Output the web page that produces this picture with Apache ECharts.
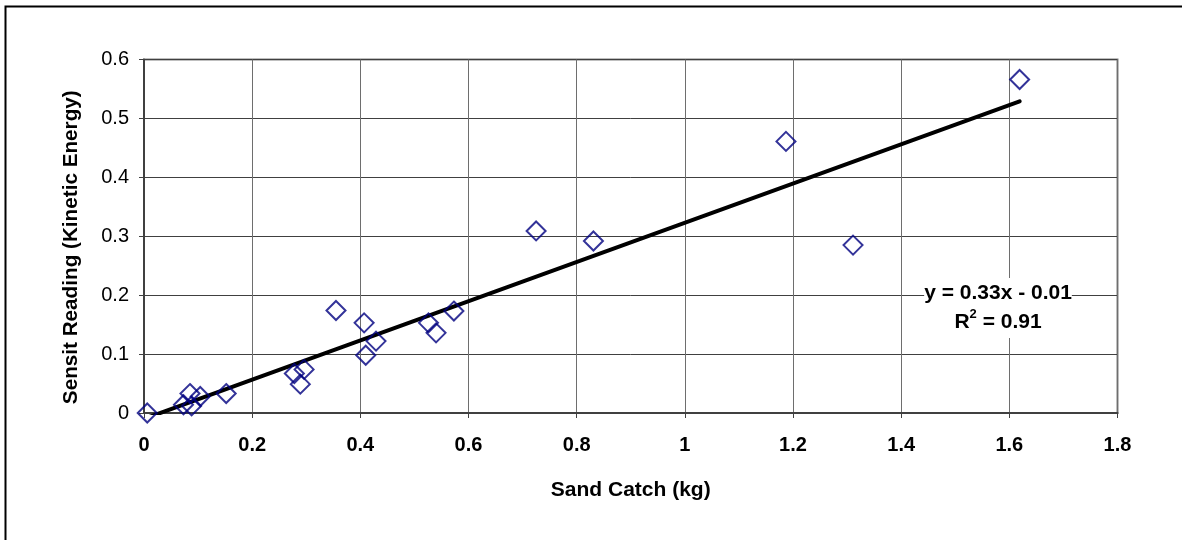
<!DOCTYPE html>
<html>
<head>
<meta charset="utf-8">
<script src="https://cdn.jsdelivr.net/npm/echarts@6/dist/echarts.min.js"></script>
<style>
  html, body { margin: 0; padding: 0; background: #fff; }
  #chart { width: 1182px; height: 540px; }
</style>
</head>
<body>
<div id="chart"></div>
<script>
// Sand catch (kg) vs Sensit reading
const sandCatch = [0.006, 0.073, 0.085, 0.088, 0.104, 0.152, 0.278, 0.289, 0.296,
  0.355, 0.407, 0.41, 0.429, 0.526, 0.54, 0.573, 0.725, 0.831, 1.187, 1.311, 1.619];
const sensit = [0.0, 0.014, 0.033, 0.012, 0.028, 0.033, 0.067, 0.049, 0.074,
  0.174, 0.153, 0.098, 0.122, 0.153, 0.136, 0.173, 0.309, 0.292, 0.461, 0.285, 0.566];

// Courbe de tendance (affichée : y = 0.33x - 0.01)
const trendSlope = 0.333;
const trendIntercept = -0.01;

const points = sandCatch.map((x, i) => [x, sensit[i]]);
const xMin = Math.min(...sandCatch);
const xMax = Math.max(...sandCatch);
const trend = [xMin, xMax].map((x) => [x, trendSlope * x + trendIntercept]);

const FONT = 'Liberation Sans, Arial, sans-serif';
const chart = echarts.init(document.getElementById('chart'), null, { renderer: 'canvas' });
chart.setOption({
  backgroundColor: '#fff',
  animation: false,
  textStyle: { fontFamily: FONT, color: '#000' },
  grid: { left: 144, top: 59.5, right: 64.5, bottom: 127, show: true, borderColor: '#808080', borderWidth: 2 },
  xAxis: {
    type: 'value', min: 0, max: 1.8, interval: 0.2,
    name: 'Sand Catch (kg)', nameLocation: 'middle', nameGap: 67,
    nameTextStyle: { fontSize: 21, fontWeight: 'bold', color: '#000' },
    axisLine: { onZero: false, lineStyle: { color: '#404040', width: 2 } },
    axisTick: { show: true, length: 5, lineStyle: { color: '#404040' } },
    axisLabel: { fontSize: 20, fontWeight: 'bold', color: '#000', margin: 22,
      formatter: (v) => String(+v.toFixed(1)) },
    splitLine: { show: true, lineStyle: { color: '#6e6e6e', width: 1 } },
  },
  yAxis: {
    type: 'value', min: 0, max: 0.6, interval: 0.1,
    name: 'Sensit Reading (Kinetic Energy)', nameLocation: 'middle', nameGap: 62,
    nameTextStyle: { fontSize: 20.7, fontWeight: 'bold', color: '#000', padding: [0, 22, 0, 0] },
    axisLine: { show: true, onZero: false, lineStyle: { color: '#404040', width: 2 } },
    axisTick: { show: true, length: 5, lineStyle: { color: '#404040' } },
    axisLabel: { fontSize: 20, color: '#000', margin: 15,
      formatter: (v) => String(+v.toFixed(1)) },
    splitLine: { show: true, lineStyle: { color: '#404040', width: 1 } },
  },
  series: [
    {
      type: 'line', data: trend, symbol: 'none', clip: true, z: 2,
      lineStyle: { color: '#000', width: 4, cap: 'round' },
    },
    {
      type: 'scatter', data: points, symbol: 'diamond', symbolSize: 19, z: 3,
      itemStyle: { color: 'rgba(255,255,255,0)', borderColor: '#000080', borderWidth: 2 },
    },
  ],
  graphic: [
    { type: 'rect', left: 3, top: 4, shape: { width: 1300, height: 700 },
      style: { fill: 'none', stroke: '#000', lineWidth: 2 }, z: 100 },
    { type: 'text', x: 998, y: 278, z: 100,
      style: { text: 'y = 0.33x - 0.01\nR{s|2} = 0.91', font: 'bold 21px ' + FONT,
        align: 'center', verticalAlign: 'top', lineHeight: 29,
        fill: '#000', backgroundColor: '#fff', padding: [1, 0],
        rich: { s: { fontSize: 13, fontWeight: 'bold', lineHeight: 29, verticalAlign: 'top', padding: [0, 0, 8, 0] } } } },
  ],
});
</script>
</body>
</html>
